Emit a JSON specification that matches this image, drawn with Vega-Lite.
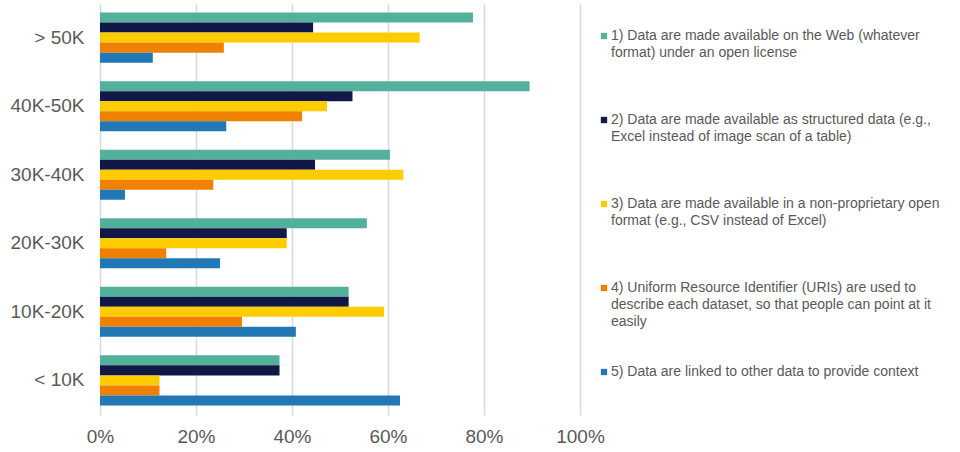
{
  "$schema": "https://vega.github.io/schema/vega-lite/v6.json",
  "width": 480,
  "height": 412,
  "autosize": {"type": "none"},
  "padding": {"left": 100, "top": 3, "right": 380, "bottom": 37},
  "background": "white",
  "config": {"view": {"stroke": null}, "font": "Liberation Sans", "style": {"guide-label": {"lineHeight": 17}}},
  "data": {"values": [
    {"size": "> 50K", "crit": "1) Data are made available on the Web (whatever|format) under an open license|\u00a0|\u00a0|\u00a0", "pct": 0.777},
    {"size": "> 50K", "crit": "2) Data are made available as structured data (e.g.,|Excel instead of image scan of a table)|\u00a0|\u00a0|\u00a0", "pct": 0.444},
    {"size": "> 50K", "crit": "3) Data are made available in a non-proprietary open|format (e.g., CSV instead of Excel)|\u00a0|\u00a0|\u00a0", "pct": 0.666},
    {"size": "> 50K", "crit": "4) Uniform Resource Identifier (URIs) are used to|describe each dataset, so that people can point at it|easily|\u00a0|\u00a0", "pct": 0.258},
    {"size": "> 50K", "crit": "5) Data are linked to other data to provide context|\u00a0|\u00a0|\u00a0|\u00a0", "pct": 0.11},
    {"size": "40K-50K", "crit": "1) Data are made available on the Web (whatever|format) under an open license|\u00a0|\u00a0|\u00a0", "pct": 0.895},
    {"size": "40K-50K", "crit": "2) Data are made available as structured data (e.g.,|Excel instead of image scan of a table)|\u00a0|\u00a0|\u00a0", "pct": 0.526},
    {"size": "40K-50K", "crit": "3) Data are made available in a non-proprietary open|format (e.g., CSV instead of Excel)|\u00a0|\u00a0|\u00a0", "pct": 0.473},
    {"size": "40K-50K", "crit": "4) Uniform Resource Identifier (URIs) are used to|describe each dataset, so that people can point at it|easily|\u00a0|\u00a0", "pct": 0.421},
    {"size": "40K-50K", "crit": "5) Data are linked to other data to provide context|\u00a0|\u00a0|\u00a0|\u00a0", "pct": 0.263},
    {"size": "30K-40K", "crit": "1) Data are made available on the Web (whatever|format) under an open license|\u00a0|\u00a0|\u00a0", "pct": 0.604},
    {"size": "30K-40K", "crit": "2) Data are made available as structured data (e.g.,|Excel instead of image scan of a table)|\u00a0|\u00a0|\u00a0", "pct": 0.448},
    {"size": "30K-40K", "crit": "3) Data are made available in a non-proprietary open|format (e.g., CSV instead of Excel)|\u00a0|\u00a0|\u00a0", "pct": 0.632},
    {"size": "30K-40K", "crit": "4) Uniform Resource Identifier (URIs) are used to|describe each dataset, so that people can point at it|easily|\u00a0|\u00a0", "pct": 0.236},
    {"size": "30K-40K", "crit": "5) Data are linked to other data to provide context|\u00a0|\u00a0|\u00a0|\u00a0", "pct": 0.052},
    {"size": "20K-30K", "crit": "1) Data are made available on the Web (whatever|format) under an open license|\u00a0|\u00a0|\u00a0", "pct": 0.556},
    {"size": "20K-30K", "crit": "2) Data are made available as structured data (e.g.,|Excel instead of image scan of a table)|\u00a0|\u00a0|\u00a0", "pct": 0.389},
    {"size": "20K-30K", "crit": "3) Data are made available in a non-proprietary open|format (e.g., CSV instead of Excel)|\u00a0|\u00a0|\u00a0", "pct": 0.389},
    {"size": "20K-30K", "crit": "4) Uniform Resource Identifier (URIs) are used to|describe each dataset, so that people can point at it|easily|\u00a0|\u00a0", "pct": 0.138},
    {"size": "20K-30K", "crit": "5) Data are linked to other data to provide context|\u00a0|\u00a0|\u00a0|\u00a0", "pct": 0.25},
    {"size": "10K-20K", "crit": "1) Data are made available on the Web (whatever|format) under an open license|\u00a0|\u00a0|\u00a0", "pct": 0.518},
    {"size": "10K-20K", "crit": "2) Data are made available as structured data (e.g.,|Excel instead of image scan of a table)|\u00a0|\u00a0|\u00a0", "pct": 0.518},
    {"size": "10K-20K", "crit": "3) Data are made available in a non-proprietary open|format (e.g., CSV instead of Excel)|\u00a0|\u00a0|\u00a0", "pct": 0.592},
    {"size": "10K-20K", "crit": "4) Uniform Resource Identifier (URIs) are used to|describe each dataset, so that people can point at it|easily|\u00a0|\u00a0", "pct": 0.296},
    {"size": "10K-20K", "crit": "5) Data are linked to other data to provide context|\u00a0|\u00a0|\u00a0|\u00a0", "pct": 0.408},
    {"size": "< 10K", "crit": "1) Data are made available on the Web (whatever|format) under an open license|\u00a0|\u00a0|\u00a0", "pct": 0.374},
    {"size": "< 10K", "crit": "2) Data are made available as structured data (e.g.,|Excel instead of image scan of a table)|\u00a0|\u00a0|\u00a0", "pct": 0.374},
    {"size": "< 10K", "crit": "3) Data are made available in a non-proprietary open|format (e.g., CSV instead of Excel)|\u00a0|\u00a0|\u00a0", "pct": 0.124},
    {"size": "< 10K", "crit": "4) Uniform Resource Identifier (URIs) are used to|describe each dataset, so that people can point at it|easily|\u00a0|\u00a0", "pct": 0.124},
    {"size": "< 10K", "crit": "5) Data are linked to other data to provide context|\u00a0|\u00a0|\u00a0|\u00a0", "pct": 0.625}
  ]},
  "mark": {"type": "bar"},
  "encoding": {
    "y": {
      "field": "size", "type": "nominal",
      "sort": ["> 50K", "40K-50K", "30K-40K", "20K-30K", "10K-20K", "< 10K"],
      "scale": {"paddingInner": 0.27, "paddingOuter": 0.14},
      "axis": {"title": null, "domain": false, "ticks": false, "labelFontSize": 19, "labelColor": "#595959", "labelPadding": 16}
    },
    "x": {
      "field": "pct", "type": "quantitative",
      "scale": {"domain": [0, 1]},
      "axis": {"title": null, "format": ".0%", "values": [0, 0.2, 0.4, 0.6, 0.8, 1], "domain": false, "ticks": false, "labelFlush": false,
               "gridColor": "#D9D9D9", "gridWidth": 1.5, "labelFontSize": 19, "labelColor": "#595959", "labelPadding": 12}
    },
    "yOffset": {"field": "crit", "type": "nominal"},
    "color": {
      "field": "crit", "type": "nominal",
      "scale": {"range": ["#53B19B", "#121845", "#FFCC00", "#F08000", "#2178B5"]},
      "legend": {
        "title": null, "orient": "none", "legendX": 497, "legendY": 26, "direction": "vertical",
        "symbolType": "square", "symbolSize": 40, "symbolStrokeWidth": 0,
        "labelFontSize": 14, "labelColor": "#595959", "labelLimit": 400, "labelOffset": 0,
        "rowPadding": 2,
        "labelExpr": "split(datum.label, '|')"
      }
    }
  }
}
